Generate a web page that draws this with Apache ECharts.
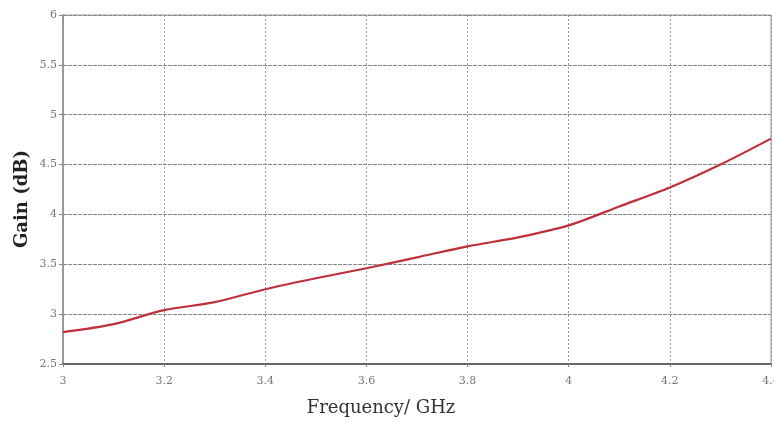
<!DOCTYPE html>
<html><head><meta charset="utf-8">
<script src="https://cdn.jsdelivr.net/npm/echarts@6/dist/echarts.min.js"></script>
<style>html,body{margin:0;padding:0;background:#fff}#c{width:774px;height:427px}</style>
</head><body><div id="c"></div>
<script>
var frequency = [3.0, 3.1, 3.2, 3.3, 3.4, 3.5, 3.6, 3.7, 3.8, 3.9, 4.0, 4.1, 4.2, 4.3, 4.4];
var gain = [2.82, 2.90, 3.04, 3.12, 3.25, 3.36, 3.46, 3.57, 3.68, 3.77, 3.89, 4.08, 4.27, 4.50, 4.76];
var xTitle = 'Frequency/ GHz';
var yTitle = 'Gain (dB)';

var chart = echarts.init(document.getElementById('c'));
var pts = frequency.map(function (f, i) { return [f, gain[i]]; });
chart.setOption({
  animation: false,
  backgroundColor: '#fff',
  grid: { left: 63, right: 3, top: 15, bottom: 63, show: true, borderColor: '#999', borderWidth: 1,
          outerBoundsMode: 'none', containLabel: false },
  graphic: [
    { type: 'text', x: 381, y: 408, style: { text: xTitle, font: '18px "DejaVu Serif"', fill: '#333', align: 'center', verticalAlign: 'middle' } },
    { type: 'text', x: 22, y: 199, rotation: Math.PI / 2, style: { text: yTitle, font: 'bold 18px "DejaVu Serif"', fill: '#222', align: 'center', verticalAlign: 'middle' } }
  ],
  xAxis: {
    type: 'value', min: 3, max: 4.4, interval: 0.2,
    axisLine: { show: true, lineStyle: { color: '#666', width: 2 } },
    axisTick: { show: true, length: 3, lineStyle: { color: '#888' } },
    axisLabel: { fontFamily: 'DejaVu Serif', fontSize: 11, color: '#777', margin: 12 },
    splitLine: { show: true, lineStyle: { color: '#999', type: [2, 2], width: 1 } }
  },
  yAxis: {
    type: 'value', min: 2.5, max: 6, interval: 0.5,
    axisLine: { show: true, lineStyle: { color: '#999', width: 2 } },
    axisTick: { show: true, length: 4, lineStyle: { color: '#888' } },
    axisLabel: { fontFamily: 'DejaVu Serif', fontSize: 11, color: '#777', margin: 6 },
    splitLine: { show: true, lineStyle: { color: '#888', type: [4, 1], width: 1 } }
  },
  series: [{
    type: 'line', data: pts, symbol: 'none', smooth: 0.3,
    lineStyle: { color: '#c0303c', width: 2.2 }
  }]
});
</script></body></html>
